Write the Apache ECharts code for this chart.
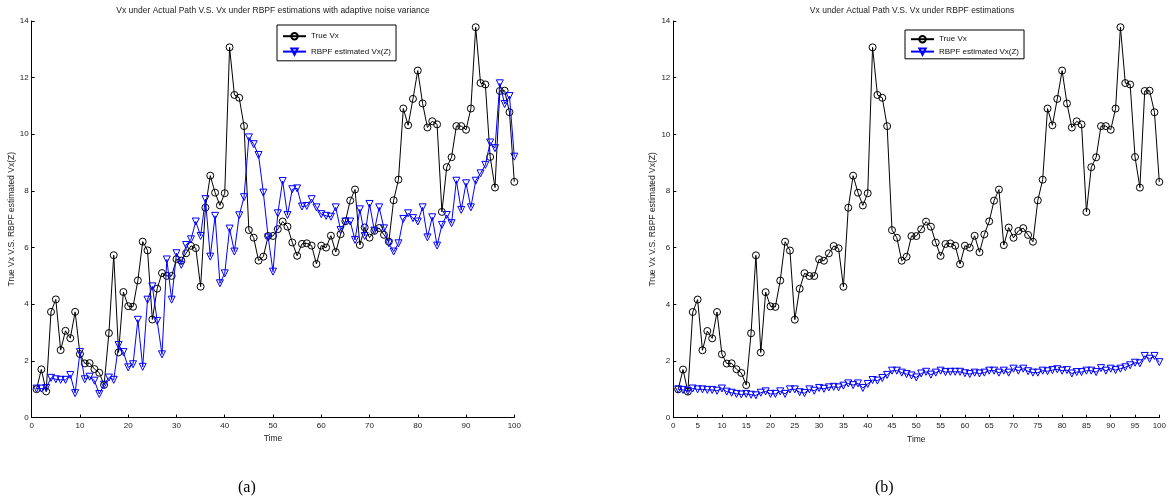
<!DOCTYPE html>
<html>
<head>
<meta charset="UTF-8">
<title>Vx RBPF</title>
<script src="https://cdn.jsdelivr.net/npm/echarts@6/dist/echarts.min.js"></script>
<style>
  html, body { margin: 0; padding: 0; background: #fff; }
  #main { width: 1169px; height: 500px; }
</style>
</head>
<body>
<div id="main"></div>
<script>
// time steps
var times = [1,2,3,4,5,6,7,8,9,10,11,12,13,14,15,16,17,18,19,20,
  21,22,23,24,25,26,27,28,29,30,31,32,33,34,35,36,37,38,39,40,
  41,42,43,44,45,46,47,48,49,50,51,52,53,54,55,56,57,58,59,60,
  61,62,63,64,65,66,67,68,69,70,71,72,73,74,75,76,77,78,79,80,
  81,82,83,84,85,86,87,88,89,90,91,92,93,94,95,96,97,98,99,100];

// true Vx (same in both panels)
var trueVx = [1.0,1.7,0.92,3.73,4.17,2.38,3.06,2.8,3.73,2.24,
  1.91,1.92,1.71,1.58,1.15,2.98,5.73,2.3,4.43,3.93,
  3.91,4.84,6.21,5.9,3.46,4.55,5.1,5.0,5.0,5.59,
  5.54,5.8,6.06,5.98,4.62,7.41,8.54,7.94,7.49,7.92,
  13.07,11.39,11.29,10.29,6.62,6.35,5.54,5.68,6.41,6.41,
  6.65,6.92,6.74,6.18,5.71,6.13,6.15,6.07,5.42,6.07,
  6.0,6.42,5.84,6.47,6.93,7.66,8.05,6.09,6.71,6.35,
  6.59,6.69,6.45,6.21,7.67,8.4,10.91,10.32,11.25,12.25,
  11.09,10.24,10.46,10.35,7.26,8.84,9.19,10.29,10.29,10.16,
  10.91,13.78,11.81,11.76,9.2,8.12,11.53,11.54,10.78,8.32];

// RBPF estimate with adaptive noise variance (panel a)
var estAdaptive = [1.02,1.02,1.04,1.4,1.35,1.33,1.33,1.5,0.86,2.31,
  1.35,1.44,1.3,0.83,1.16,1.41,1.33,2.56,2.31,1.77,
  1.88,3.45,1.79,4.16,4.63,3.41,2.23,5.58,4.16,5.8,
  5.39,6.09,6.29,6.92,6.41,7.71,5.68,7.12,4.74,5.09,
  6.67,5.86,7.14,7.78,9.89,9.65,9.27,7.94,6.36,5.15,
  7.21,8.35,7.15,8.06,8.09,7.45,7.47,7.71,7.42,7.18,
  7.12,7.09,7.42,6.62,6.92,6.92,6.27,7.35,6.41,7.54,
  6.6,7.42,6.68,6.15,5.86,6.15,7.01,7.21,7.04,6.92,
  7.42,6.36,7.07,6.07,6.8,7.15,6.86,8.36,7.33,8.27,
  7.42,8.36,8.62,8.92,9.71,9.51,11.8,11.07,11.35,9.21];

// RBPF estimate, fixed noise (panel b)
var estFixed = [1.0,0.98,0.94,1.03,1.0,1.0,0.98,0.98,0.95,1.03,
  0.92,0.88,0.84,0.82,0.84,0.81,0.79,0.88,0.93,0.84,
  0.84,0.93,0.84,1.0,1.0,0.9,0.87,1.0,0.95,1.05,
  1.02,1.07,1.09,1.07,1.13,1.21,1.15,1.21,1.05,1.19,
  1.33,1.31,1.4,1.51,1.66,1.66,1.59,1.54,1.49,1.42,
  1.56,1.62,1.52,1.59,1.66,1.61,1.62,1.62,1.62,1.57,
  1.54,1.59,1.56,1.59,1.66,1.66,1.59,1.66,1.59,1.73,
  1.66,1.73,1.64,1.59,1.59,1.66,1.64,1.68,1.71,1.66,
  1.68,1.56,1.61,1.61,1.66,1.66,1.61,1.75,1.66,1.73,
  1.68,1.73,1.78,1.85,1.94,1.92,2.18,2.08,2.18,1.96];

var titleA = 'Vx under Actual Path V.S. Vx under RBPF estimations with adaptive noise variance';
var titleB = 'Vx under Actual Path V.S. Vx under RBPF estimations';
var yName = 'True Vx V.S. RBPF estimated Vx(Z)';
var nameTrue = 'True Vx';
var nameEst = 'RBPF estimated Vx(Z)';

function pairs(vals) {
  return times.map(function (t, i) { return [t, vals[i]]; });
}

var font = 'Liberation Sans, Arial, sans-serif';

function xAx(idx, step) {
  return {
    gridIndex: idx, type: 'value', min: 0, max: 100, interval: step,
    name: 'Time', nameLocation: 'middle', nameGap: 17,
    nameTextStyle: { color: '#222', fontSize: 8.5, fontFamily: font },
    axisLine: { lineStyle: { color: '#000', width: 1 } },
    axisTick: { inside: true, length: 3, lineStyle: { color: '#000' } },
    axisLabel: { color: '#222', fontSize: 8, fontFamily: font, margin: 4 },
    splitLine: { show: false }
  };
}
function yAx(idx) {
  return {
    gridIndex: idx, type: 'value', min: 0, max: 14, interval: 2,
    name: yName, nameLocation: 'middle', nameGap: 10, nameRotate: 90,
    nameTextStyle: { color: '#222', fontSize: 8.5, fontFamily: font },
    axisLine: { show: true, lineStyle: { color: '#000', width: 1 } },
    axisTick: { show: true, inside: true, length: 3, lineStyle: { color: '#000' } },
    axisLabel: { color: '#222', fontSize: 8, fontFamily: font, margin: 3 },
    splitLine: { show: false }
  };
}
function trueSeries(idx) {
  return {
    name: nameTrue, type: 'line', xAxisIndex: idx, yAxisIndex: idx,
    data: pairs(trueVx), symbol: 'circle', symbolSize: 7, showAllSymbol: true,
    lineStyle: { color: '#000', width: 1 },
    itemStyle: { color: 'rgba(0,0,0,0)', borderColor: '#000', borderWidth: 1 },
    emphasis: { disabled: true }, animation: false, z: 2
  };
}
function estSeries(idx, vals) {
  return {
    name: nameEst, type: 'line', xAxisIndex: idx, yAxisIndex: idx,
    data: pairs(vals), symbol: 'triangle', symbolRotate: 180, symbolSize: 7, showAllSymbol: true,
    lineStyle: { color: '#0000ff', width: 1 },
    itemStyle: { color: 'rgba(0,0,0,0)', borderColor: '#0000ff', borderWidth: 1 },
    emphasis: { disabled: true }, animation: false, z: 3
  };
}
function leg(left, top, gap, pad) {
  return {
    left: left, top: top, orient: 'vertical', itemGap: gap,
    itemWidth: 23, itemHeight: 8, data: [nameTrue, nameEst],
    borderColor: '#000', borderWidth: 1, padding: pad,
    textStyle: { color: '#111', fontSize: 8, fontFamily: font },
    selectedMode: false
  };
}

var myChart = echarts.init(document.getElementById('main'), null, { renderer: 'canvas' });
var option = {
  backgroundColor: '#fff',
  animation: false,
  title: [
    { text: titleA, left: 273, top: 6, textAlign: 'center', padding: 0,
      textStyle: { color: '#222', fontSize: 8.5, fontWeight: 'normal', fontFamily: font } },
    { text: titleB, left: 912, top: 6, textAlign: 'center', padding: 0,
      textStyle: { color: '#222', fontSize: 8.5, fontWeight: 'normal', fontFamily: font } }
  ],
  legend: [leg(277, 25, 7, [7, 5, 5, 5]), leg(905, 30, 4, [5, 5, 3, 5])],
  grid: [
    { left: 31.7, top: 21, width: 482.6, height: 396.5 },
    { left: 673.3, top: 21, width: 489.7, height: 396.7 }
  ],
  xAxis: [xAx(0, 10), xAx(1, 5)],
  yAxis: [yAx(0), yAx(1)],
  series: [
    trueSeries(0), estSeries(0, estAdaptive),
    trueSeries(1), estSeries(1, estFixed)
  ],
  graphic: [
    { type: 'text', left: 238, top: 480,
      style: { text: '(a)', fontSize: 16, fontFamily: 'Liberation Serif, serif', fill: '#000' } },
    { type: 'text', left: 875, top: 480,
      style: { text: '(b)', fontSize: 16, fontFamily: 'Liberation Serif, serif', fill: '#000' } }
  ]
};
myChart.setOption(option);
</script>
</body>
</html>
